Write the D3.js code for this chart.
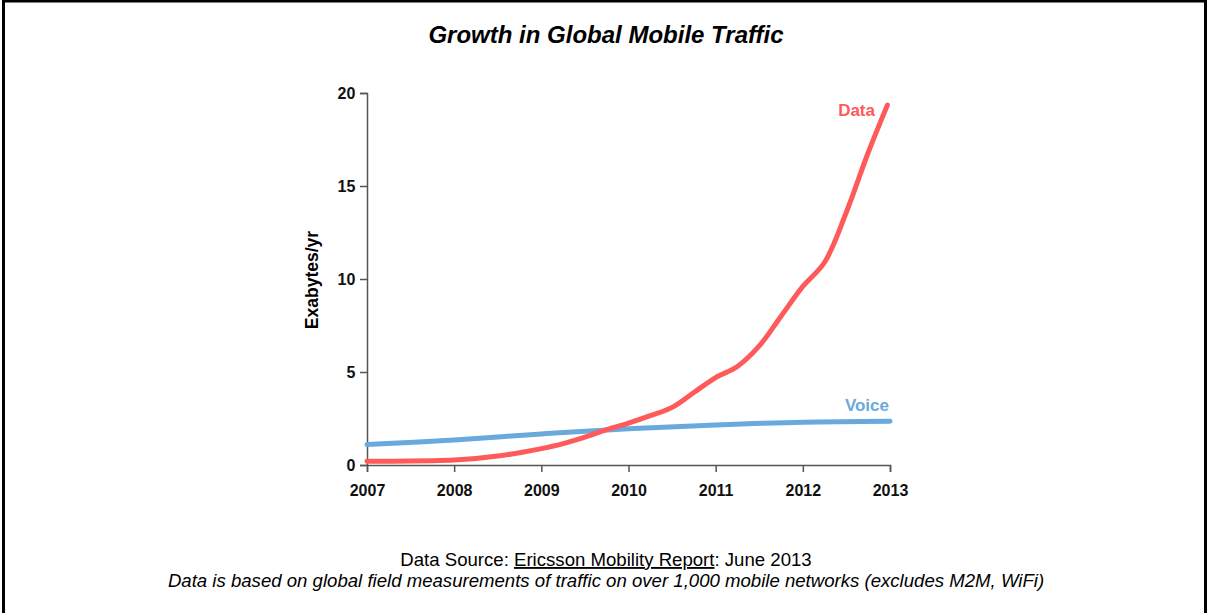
<!DOCTYPE html>
<html>
<head>
<meta charset="utf-8">
<script src="https://cdn.jsdelivr.net/npm/d3@7"></script>
<style>
  html, body { margin: 0; padding: 0; background: #fff; }
  svg { display: block; font-family: "Liberation Sans", Arial, sans-serif; }
</style>
</head>
<body>
<svg id="chart" width="1208" height="613"></svg>
<script>
// ---- data ----
const dataYears = [2007, 2007.25, 2007.5, 2007.75, 2008, 2008.25, 2008.5, 2008.75, 2009, 2009.25, 2009.5, 2009.75,
                   2010, 2010.25, 2010.5, 2010.75, 2011, 2011.25, 2011.5, 2011.75, 2012, 2012.25, 2012.5, 2012.75, 2012.97];
const dataValues = [0.20, 0.20, 0.21, 0.23, 0.27, 0.35, 0.48, 0.66, 0.88, 1.15, 1.50, 1.90,
                    2.25, 2.65, 3.10, 3.90, 4.70, 5.30, 6.40, 8.00, 9.60, 10.90, 13.60, 16.80, 19.35];
const voiceYears = [2007, 2008, 2009, 2010, 2011, 2012, 2013];
const voiceValues = [1.10, 1.35, 1.67, 1.95, 2.15, 2.30, 2.35];
const xTicks = [2007, 2008, 2009, 2010, 2011, 2012, 2013];
const yTicks = [0, 5, 10, 15, 20];

const svg = d3.select("#chart");
const W = 1208, H = 613;

// border
svg.append("rect").attr("x", 3.5).attr("y", 1).attr("width", W - 6).attr("height", H + 10)
  .attr("fill", "none").attr("stroke", "#000").attr("stroke-width", 3);

const x = d3.scaleLinear().domain([2007, 2013]).range([367, 890]);
const y = d3.scaleLinear().domain([0, 20]).range([465, 93]);

// axes
const xAxis = svg.append("g").attr("transform", "translate(0,465)")
  .call(d3.axisBottom(x).tickValues(xTicks).tickFormat(d3.format("d")).tickSizeOuter(0).tickSize(7));
const yAxis = svg.append("g").attr("transform", "translate(367,0)")
  .call(d3.axisLeft(y).tickValues(yTicks).tickSizeOuter(0).tickSize(7));
[xAxis, yAxis].forEach(g => {
  g.select(".domain").attr("stroke", "#555").attr("stroke-width", 1.5);
  g.selectAll(".tick line").attr("stroke", "#555").attr("stroke-width", 1.5);
  g.selectAll(".tick text").attr("fill", "#111").attr("font-size", 16).attr("font-weight", "bold")
    .attr("font-family", "Liberation Sans, Arial, sans-serif");
});
xAxis.selectAll(".tick text").attr("dy", "1.3em");
yAxis.selectAll(".tick text").attr("dx", "-0.1em");

// lines
const line = d3.line().x(d => x(d[0])).y(d => y(d[1])).curve(d3.curveCatmullRom.alpha(0.5));
svg.append("path").datum(voiceYears.map((t, i) => [t, voiceValues[i]]))
  .attr("d", line).attr("fill", "none").attr("stroke", "#6aa9dc").attr("stroke-width", 5)
  .attr("stroke-linecap", "round");
svg.append("path").datum(dataYears.map((t, i) => [t, dataValues[i]]))
  .attr("d", line).attr("fill", "none").attr("stroke", "#ff5a5a").attr("stroke-width", 5)
  .attr("stroke-linecap", "round");

// series labels
svg.append("text").attr("x", 875).attr("y", 116).attr("text-anchor", "end")
  .attr("font-size", 17).attr("font-weight", "bold").attr("fill", "#ff5a5a").text("Data");
svg.append("text").attr("x", 889).attr("y", 411).attr("text-anchor", "end")
  .attr("font-size", 17).attr("font-weight", "bold").attr("fill", "#6aa9dc").text("Voice");

// title
svg.append("text").attr("x", 606).attr("y", 43).attr("text-anchor", "middle")
  .attr("font-size", 24).attr("font-weight", "bold").attr("font-style", "italic").attr("fill", "#000")
  .text("Growth in Global Mobile Traffic");

// y label
svg.append("text").attr("transform", "translate(318,280) rotate(-90)").attr("text-anchor", "middle")
  .attr("font-size", 17.5).attr("font-weight", "bold").attr("fill", "#000").text("Exabytes/yr");

// footer
const f1 = svg.append("text").attr("x", 606).attr("y", 566).attr("text-anchor", "middle")
  .attr("font-size", 18.6).attr("fill", "#000");
f1.append("tspan").text("Data Source: ");
f1.append("tspan").attr("text-decoration", "underline").text("Ericsson Mobility Report");
f1.append("tspan").text(": June 2013");
svg.append("text").attr("x", 606).attr("y", 587).attr("text-anchor", "middle")
  .attr("font-size", 18.6).attr("font-style", "italic").attr("fill", "#000")
  .text("Data is based on global field measurements of traffic on over 1,000 mobile networks (excludes M2M, WiFi)");
</script>
</body>
</html>
